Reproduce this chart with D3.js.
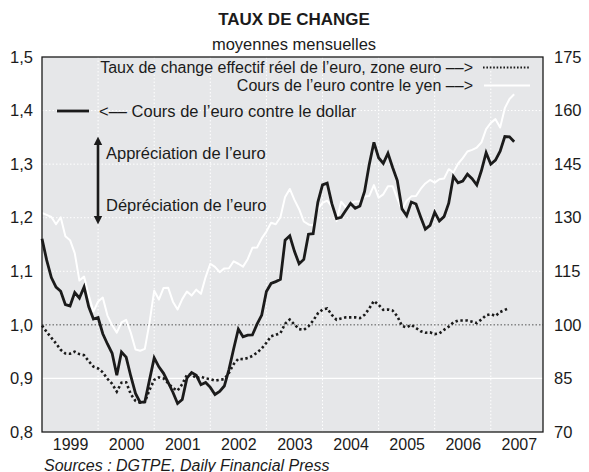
<!DOCTYPE html>
<html>
<head>
<meta charset="utf-8">
<script src="https://cdn.jsdelivr.net/npm/d3@7"></script>
<style>
  html, body { margin: 0; padding: 0; background: #fff; }
  svg { display: block; font-family: "Liberation Sans", Arial, Helvetica, sans-serif; }
</style>
</head>
<body>
<svg id="chart" width="589" height="472"></svg>
<script>
// Monthly averages, January 1999 onwards (one value per month)
const startYear = 1999;

// Euro against the dollar (left axis)
const eurUsd = [
  1.1608, 1.1208, 1.0883, 1.0704, 1.0628, 1.0378, 1.0353, 1.0604, 1.0501, 1.0706, 1.0338, 1.0110,
  1.0137, 0.9834, 0.9643, 0.9470, 0.9060, 0.9492, 0.9397, 0.9041, 0.8721, 0.8552, 0.8564, 0.8973,
  0.9383, 0.9217, 0.9095, 0.8920, 0.8742, 0.8532, 0.8607, 0.9005, 0.9111, 0.9059, 0.8883, 0.8924,
  0.8833, 0.8700, 0.8758, 0.8858, 0.9170, 0.9554, 0.9922, 0.9778, 0.9808, 0.9811, 1.0014, 1.0183,
  1.0622, 1.0773, 1.0807, 1.0848, 1.1582, 1.1663, 1.1372, 1.1139, 1.1222, 1.1692, 1.1702, 1.2286,
  1.2613, 1.2646, 1.2262, 1.1985, 1.2007, 1.2138, 1.2266, 1.2176, 1.2218, 1.2490, 1.2991, 1.3408,
  1.3119, 1.3014, 1.3201, 1.2938, 1.2694, 1.2165, 1.2037, 1.2292, 1.2256, 1.2015, 1.1786, 1.1856,
  1.2103, 1.1938, 1.2020, 1.2271, 1.2770, 1.2650, 1.2684, 1.2811, 1.2727, 1.2611, 1.2881, 1.3213,
  1.2999, 1.3074, 1.3242, 1.3516, 1.3511, 1.3419
];

// Euro against the yen (right axis)
const eurJpy = [
  131.32, 130.78, 130.20, 128.16, 130.12, 124.81, 123.71, 120.10, 112.39, 113.52, 108.25, 103.72,
  106.53, 107.64, 102.59,  99.92,  97.82, 100.71, 101.39,  97.76,  93.11,  92.75,  93.26, 100.61,
  109.57, 107.08, 110.33, 110.36, 106.50, 104.30, 107.21, 109.34, 108.20, 109.86, 108.68, 113.38,
  117.12, 116.23, 114.75, 115.81, 115.86, 117.80, 117.11, 116.31, 118.38, 121.57, 121.65, 124.20,
  126.12, 128.60, 128.16, 130.12, 135.83, 138.05, 134.99, 132.38, 128.94, 128.12, 127.84, 132.43,
  134.13, 134.78, 133.13, 129.08, 134.48, 132.86, 134.08, 134.54, 134.51, 135.97, 136.09, 139.14,
  135.63, 136.55, 138.83, 138.84, 135.37, 132.22, 134.75, 135.98, 136.06, 138.05, 139.59, 140.58,
  139.82, 140.77, 140.96, 143.59, 142.70, 145.11, 146.70, 148.53, 148.99, 149.65, 151.11, 154.82,
  156.56, 157.60, 155.24, 160.68, 163.22, 164.55
];

// Real effective exchange rate of the euro, euro area (right axis)
const reer = [
   99.8,  98.0,  96.4,  94.8,  93.0,  92.0,  91.9,  92.5,  91.8,  91.5,  89.8,  88.3,
   87.8,  86.7,  84.9,  83.5,  81.3,  83.8,  83.9,  80.6,  78.7,  78.2,  78.4,  81.8,
   84.6,  85.3,  85.0,  83.6,  82.3,  81.6,  83.4,  86.0,  86.2,  85.0,  85.5,  85.0,
   84.8,  84.4,  84.6,  84.8,  86.6,  89.0,  90.5,  90.4,  90.7,  91.3,  92.2,  93.4,
   95.0,  96.8,  97.2,  97.7, 100.3, 101.5, 100.1,  98.8,  98.6,  99.6, 101.2, 103.2,
  104.3, 104.6, 102.8, 101.4, 101.8, 102.1, 102.1, 102.1, 101.9, 102.8, 104.6, 106.7,
  105.6, 104.2, 104.3, 104.0, 102.4,  99.7,  99.3, 100.0,  99.1,  98.2,  97.8,  97.9,
   97.4,  97.6,  98.6,  99.5, 100.7, 101.2, 101.2, 101.2, 100.9, 100.5, 101.5, 102.7,
  103.0, 102.5, 103.6, 104.2, 104.7
];

const years = [1999, 2000, 2001, 2002, 2003, 2004, 2005, 2006, 2007];
const leftTicks = [0.8, 0.9, 1.0, 1.1, 1.2, 1.3, 1.4, 1.5];
const rightTicks = [70, 85, 100, 115, 130, 145, 160, 175];

const title = "TAUX DE CHANGE";
const subtitle = "moyennes mensuelles";
const legendReer = "Taux de change effectif réel de l’euro, zone euro ––>";
const legendYen = "Cours de l’euro contre le yen ––>";
const legendUsd = "<–– Cours de l’euro contre le dollar";
const noteUp = "Appréciation de l’euro";
const noteDown = "Dépréciation de l’euro";
const source = "Sources : DGTPE, Daily Financial Press";

// ---- layout ----
const plot = { left: 42, right: 543, top: 57, bottom: 432 };
const ink = "#1b1b1b";
const fontSize = 16.5;
const legendSize = 16;
const footSize = 16;

const svg = d3.select("#chart");

const x = d3.scaleLinear()
  .domain([startYear, startYear + (plot.right - plot.left) / 56.1])
  .range([plot.left, plot.right]);
const yL = d3.scaleLinear().domain([0.8, 1.5]).range([plot.bottom, plot.top]);
const yR = d3.scaleLinear().domain([70, 175]).range([plot.bottom, plot.top]);

const monthX = i => x(startYear + i / 12);

// plot background
svg.append("rect")
  .attr("x", plot.left).attr("y", plot.top)
  .attr("width", plot.right - plot.left).attr("height", plot.bottom - plot.top)
  .attr("fill", "#e6e7e9");

// vertical year gridlines
svg.append("g").selectAll("line")
  .data(years.slice(1))
  .join("line")
  .attr("x1", d => x(d)).attr("x2", d => x(d))
  .attr("y1", plot.top).attr("y2", plot.bottom)
  .attr("stroke", "#fff").attr("stroke-width", 1)
  .attr("stroke-dasharray", "1.5 2");

// horizontal gridlines
svg.append("g").selectAll("line")
  .data(leftTicks.filter(d => d > 0.8 && d < 1.5))
  .join("line")
  .attr("x1", plot.left).attr("x2", plot.right)
  .attr("y1", d => yL(d)).attr("y2", d => yL(d))
  .attr("stroke", d => Math.abs(d - 1.0) < 1e-9 ? "#555" : "#fff")
  .attr("stroke-width", d => Math.abs(d - 0.9) < 1e-9 ? 1.3 : 1)
  .attr("stroke-dasharray", d => Math.abs(d - 0.9) < 1e-9 ? null : "1.5 2");

// series
const lineL = d3.line().x((d, i) => monthX(i)).y(d => yL(d));
const lineR = d3.line().x((d, i) => monthX(i)).y(d => yR(d));

svg.append("path").datum(eurJpy)
  .attr("d", lineR)
  .attr("fill", "none").attr("stroke", "#fff")
  .attr("stroke-width", 2).attr("stroke-linejoin", "round");

svg.append("path").datum(reer)
  .attr("d", lineR)
  .attr("fill", "none").attr("stroke", ink)
  .attr("stroke-width", 2.6).attr("stroke-dasharray", "2.4 2.6");

svg.append("path").datum(eurUsd)
  .attr("d", lineL)
  .attr("fill", "none").attr("stroke", ink)
  .attr("stroke-width", 2.8).attr("stroke-linejoin", "miter");

// frame
svg.append("rect")
  .attr("x", plot.left).attr("y", plot.top)
  .attr("width", plot.right - plot.left).attr("height", plot.bottom - plot.top)
  .attr("fill", "none").attr("stroke", ink).attr("stroke-width", 1.3);

// axes
const axisLeft = d3.axisLeft(yL).tickValues(leftTicks).tickSize(0).tickPadding(9)
  .tickFormat(d => d3.format(".1f")(d).replace(".", ","));
const gL = svg.append("g").attr("transform", `translate(${plot.left},0)`).call(axisLeft);

const axisRight = d3.axisRight(yR).tickValues(rightTicks).tickSize(0).tickPadding(11)
  .tickFormat(d3.format("d"));
const gR = svg.append("g").attr("transform", `translate(${plot.right},0)`).call(axisRight);

const axisBottom = d3.axisBottom(x).tickValues(years.map(d => d + 0.5)).tickSize(0).tickPadding(7)
  .tickFormat(d => String(Math.floor(d)));
const gB = svg.append("g").attr("transform", `translate(0,${plot.bottom})`).call(axisBottom);

[gL, gR].forEach(g => {
  g.select(".domain").remove();
  g.selectAll("text").attr("fill", ink).style("font-size", fontSize + "px")
    .style("font-family", "'Liberation Sans', Arial, sans-serif");
});
gB.select(".domain").remove();
gB.selectAll("text").attr("fill", ink).style("font-size", footSize + "px")
  .style("font-family", "'Liberation Sans', Arial, sans-serif");

// titles
svg.append("text").attr("x", 294).attr("y", 25).attr("text-anchor", "middle")
  .attr("fill", ink).style("font-size", "17px").style("font-weight", "bold").text(title);
svg.append("text").attr("x", 294).attr("y", 50).attr("text-anchor", "middle")
  .attr("fill", ink).style("font-size", fontSize + "px").text(subtitle);

// legend
svg.append("text").attr("x", 473).attr("y", 72.5).attr("text-anchor", "end")
  .attr("fill", ink).style("font-size", legendSize + "px").text(legendReer);
svg.append("line").attr("x1", 483).attr("x2", 529).attr("y1", 67.5).attr("y2", 67.5)
  .attr("stroke", ink).attr("stroke-width", 2).attr("stroke-dasharray", "1.6 1.8");

svg.append("text").attr("x", 473).attr("y", 91).attr("text-anchor", "end")
  .attr("fill", ink).style("font-size", legendSize + "px").text(legendYen);
svg.append("line").attr("x1", 484).attr("x2", 530).attr("y1", 85.5).attr("y2", 85.5)
  .attr("stroke", "#fff").attr("stroke-width", 2);

svg.append("line").attr("x1", 57).attr("x2", 89).attr("y1", 111).attr("y2", 111)
  .attr("stroke", ink).attr("stroke-width", 2.8);
svg.append("text").attr("x", 99).attr("y", 117)
  .attr("fill", ink).style("font-size", fontSize + "px").text(legendUsd);

// appreciation / depreciation arrow
const defs = svg.append("defs");
defs.append("marker").attr("id", "head")
  .attr("viewBox", "0 0 10 10").attr("refX", 5).attr("refY", 5)
  .attr("markerWidth", 3.4).attr("markerHeight", 4.4).attr("orient", "auto-start-reverse")
  .append("path").attr("d", "M0,0 L10,5 L0,10 Z").attr("fill", ink);

svg.append("line").attr("x1", 98).attr("x2", 98).attr("y1", 141).attr("y2", 220)
  .attr("stroke", ink).attr("stroke-width", 2.6)
  .attr("marker-start", "url(#head)").attr("marker-end", "url(#head)");

svg.append("text").attr("x", 106).attr("y", 159)
  .attr("fill", ink).style("font-size", fontSize + "px").text(noteUp);
svg.append("text").attr("x", 106).attr("y", 211)
  .attr("fill", ink).style("font-size", fontSize + "px").text(noteDown);

// source
svg.append("text").attr("x", 44).attr("y", 470.5)
  .attr("fill", ink).style("font-size", footSize + "px").style("font-style", "italic").text(source);
</script>
</body>
</html>
